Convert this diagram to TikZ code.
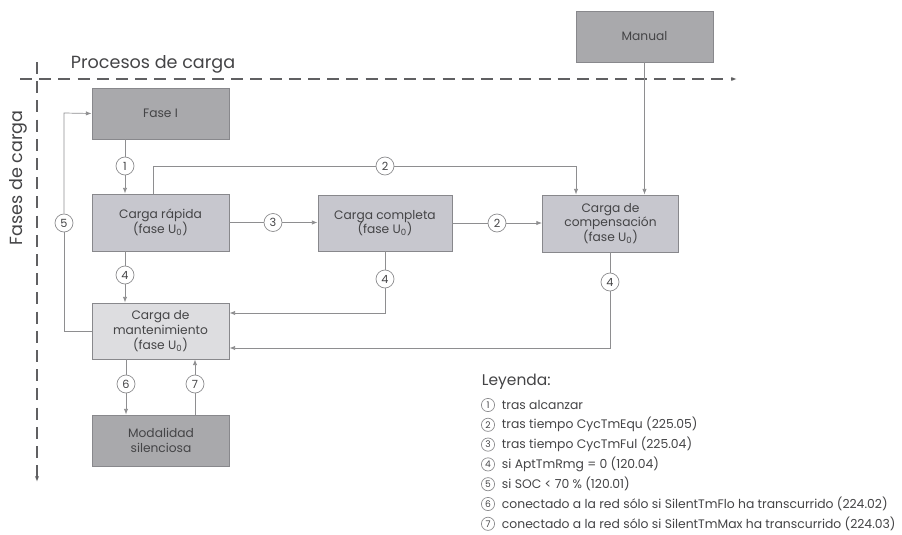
\documentclass[tikz,border=0pt]{standalone}
\usepackage{fontspec}
\setmainfont{Poppins}
\usetikzlibrary{arrows.meta,calc}
\definecolor{ink}{HTML}{444446}
\definecolor{linec}{HTML}{8E8E90}
\definecolor{edgec}{HTML}{88888C}
\definecolor{axisc}{HTML}{606062}
\definecolor{darkbox}{HTML}{A9A9AC}
\definecolor{midbox}{HTML}{C7C7CE}
\definecolor{lightbox}{HTML}{DDDDE0}

\begin{document}
\begin{tikzpicture}[x=0.025cm, y=-0.025cm, text=ink,
  font=\fontsize{8.7}{10.5}\selectfont,
  box/.style={draw=edgec, line width=0.6pt, minimum width=3.425cm,
              align=center, inner sep=1pt},
  tag/.style={circle, draw=linec, fill=white, line width=0.5pt,
              minimum size=0.45cm, inner sep=0pt, font=\fontsize{8}{8}\selectfont},
  legtag/.style={circle, draw=linec, line width=0.5pt, minimum size=0.33cm,
                 inner sep=0pt, font=\fontsize{6.5}{6.5}\selectfont},
  wire/.style={draw=linec, line width=0.5pt},
  arr/.style={-{Latex[length=4pt,width=3pt]}},
  axis/.style={draw=axisc, line width=0.8pt, dash pattern=on 0.3cm off 0.18cm}]

\useasboundingbox (0,0) rectangle (902,534);

% axes
\draw[axis, arr] (20,79) -- (737,79);
\draw[axis, arr] (37,62) -- (37,482);
\node[anchor=base west, font=\fontsize{12.5}{12.5}\selectfont] (proc) at (66,68)
  {Procesos de carga};
\node[rotate=90, font=\fontsize{12.5}{12.5}\selectfont] (fases) at (18,178)
  {Fases de carga};

% phases
\node[box, fill=darkbox, minimum height=1.275cm] (fase1) at (160.5,113.5) {Fase I};
\node[box, fill=darkbox, minimum height=1.275cm] (manual) at (644.5,36.5) {Manual};
\node[box, fill=midbox, minimum height=1.425cm] (rapida) at (160.5,222.5)
  {Carga rápida\\(fase U\textsubscript{0})};
\node[box, fill=midbox, minimum height=1.4cm, minimum width=3.35cm] (completa)
  at (385,223) {Carga completa\\(fase U\textsubscript{0})};
\node[box, fill=midbox, minimum height=1.425cm, minimum width=3.4cm] (compens)
  at (610.5,223.5) {Carga de\\compensación\\(fase U\textsubscript{0})};
\node[box, fill=lightbox, minimum height=1.4cm] (mant) at (160.5,331)
  {Carga de\\mantenimiento\\(fase U\textsubscript{0})};
\node[box, fill=darkbox, minimum height=1.275cm] (silenc) at (161,440.5)
  {Modalidad\\silenciosa};

% transition tags
\node[tag] (c1) at (125,166) {1};
\node[tag] (c2a) at (385,166) {2};
\node[tag] (c3) at (273,222.5) {3};
\node[tag] (c2b) at (497,223) {2};
\node[tag] (c4a) at (125,275) {4};
\node[tag] (c4b) at (385,279) {4};
\node[tag] (c4c) at (610,282) {4};
\node[tag] (c5) at (64,223) {5};
\node[tag] (c6) at (126,384) {6};
\node[tag] (c7) at (195,384) {7};

\coordinate (t2) at (153,166);
\coordinate (e2) at (576,166);
\coordinate (m4b) at (385,313);
\coordinate (m4c) at (610,348);
\coordinate (m5) at (64,331);
\coordinate (f5) at (64,113);

% connectors
\draw[wire] (c1 |- fase1.south) -- (c1);
\draw[wire, arr] (c1) -- (c1 |- rapida.north);
\draw[wire] (t2 |- rapida.north) -- (t2) -- (c2a);
\draw[wire, arr] (c2a) -- (e2) -- (e2 |- compens.north);
\draw[wire, arr] (manual.south) -- (manual.south |- compens.north);
\draw[wire] (rapida.east) -- (c3);
\draw[wire, arr] (c3) -- (c3 -| completa.west);
\draw[wire] (completa.east |- c2b) -- (c2b);
\draw[wire, arr] (c2b) -- (c2b -| compens.west);
\draw[wire] (c4a |- rapida.south) -- (c4a);
\draw[wire, arr] (c4a) -- (c4a |- mant.north);
\draw[wire] (c4b |- completa.south) -- (c4b);
\draw[wire, arr] (c4b) -- (m4b) -- (m4b -| mant.east);
\draw[wire] (c4c |- compens.south) -- (c4c);
\draw[wire, arr] (c4c) -- (m4c) -- (m4c -| mant.east);
\draw[wire] (m5 -| mant.west) -- (m5) -- (c5);
\draw[wire, arr] (c5) -- (f5) -- (fase1.west);
\draw[wire] (c6 |- mant.south) -- (c6);
\draw[wire, arr] (c6) -- (c6 |- silenc.north);
\draw[wire] (c7 |- silenc.north) -- (c7);
\draw[wire, arr] (c7) -- (c7 |- mant.south);

% legend
\node[anchor=west, font=\fontsize{11}{11}\selectfont] (leyenda) at (477,382)
  {Leyenda:};
\foreach \n/\txt [count=\i from 0] in {%
  1/{tras alcanzar},
  2/{tras tiempo CycTmEqu (225.05)},
  3/{tras tiempo CycTmFul (225.04)},
  4/{si AptTmRmg = 0 (120.04)},
  5/{si SOC < 70 \% (120.01)},
  6/{conectado a la red sólo si SilentTmFlo ha transcurrido (224.02)},
  7/{conectado a la red sólo si SilentTmMax ha transcurrido (224.03)}%
}{
  \node[legtag] (leg\n) at (488,405+\i*19.8) {\n};
  \node[anchor=west, font=\fontsize{8.8}{8.8}\selectfont] (legt\n)
    at (497,405+\i*19.8) {\txt};
}

\end{tikzpicture}
\end{document}
